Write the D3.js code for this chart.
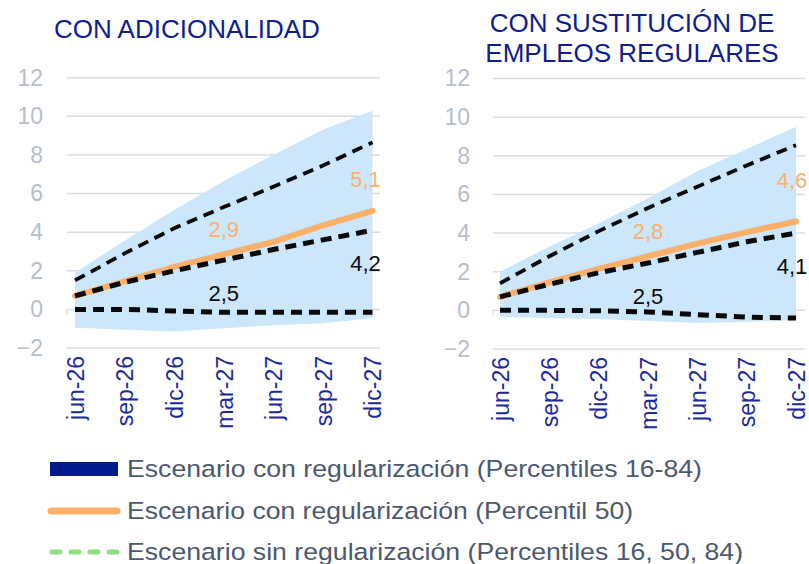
<!DOCTYPE html>
<html>
<head>
<meta charset="utf-8">
<script src="https://cdn.jsdelivr.net/npm/d3@7/dist/d3.min.js"></script>
<style>
  html, body { margin: 0; padding: 0; background: #ffffff; }
  svg { display: block; font-family: "Liberation Sans", Arial, sans-serif; }
</style>
</head>
<body>
<svg id="chart" width="809" height="564"></svg>
<script>
// ---------- data ----------
const categories = ["jun-26", "sep-26", "dic-26", "mar-27", "jun-27", "sep-27", "dic-27"];
const yTicks = [-2, 0, 2, 4, 6, 8, 10, 12];

// Panel 1: CON ADICIONALIDAD
const adicBandLow  = [-0.95, -1.05, -1.15, -0.98, -0.82, -0.72, -0.45];
const adicBandHigh = [1.9, 3.55, 5.15, 6.65, 8.0, 9.3, 10.3];
const adicP50      = [0.7, 1.45, 2.2, 2.85, 3.5, 4.35, 5.1];
const adicSinP16   = [0, 0, -0.08, -0.15, -0.15, -0.15, -0.15];
const adicSinP50   = [0.7, 1.4, 2.0, 2.55, 3.1, 3.6, 4.1];
const adicSinP84   = [1.5, 2.9, 4.2, 5.3, 6.35, 7.45, 8.65];
const adicLabels   = ["2,9", "5,1", "2,5", "4,2"];

// Panel 2: CON SUSTITUCIÓN DE EMPLEOS REGULARES
const sustBandLow  = [-0.35, -0.4, -0.45, -0.55, -0.65, -0.6, -0.5];
const sustBandHigh = [2.0, 3.3, 4.5, 5.8, 7.2, 8.35, 9.5];
const sustP50      = [0.7, 1.45, 2.15, 2.8, 3.45, 4.05, 4.6];
const sustSinP16   = [0, 0, -0.02, -0.08, -0.22, -0.35, -0.4];
const sustSinP50   = [0.7, 1.35, 1.95, 2.45, 3.0, 3.55, 4.0];
const sustSinP84   = [1.4, 2.8, 4.1, 5.3, 6.4, 7.5, 8.55];
const sustLabels   = ["2,8", "4,6", "2,5", "4,1"];

const legendLabels = [
  "Escenario con regularización (Percentiles 16-84)",
  "Escenario con regularización (Percentil 50)",
  "Escenario sin regularización (Percentiles 16, 50, 84)"
];

// ---------- styles ----------
const C = {
  title: "#0f1d8f",
  xLabel: "#1a2a9c",
  yLabel: "#b6bec9",
  grid: "#d8dce3",
  band: "#cce6fc",
  orange: "#fbb06a",
  black: "#0a0a0a",
  legendText: "#4c586e",
  navy: "#021a8c",
  green: "#8fe07f"
};

const svg = d3.select("#chart");

function drawPanel(cfg) {
  const x = d3.scalePoint().domain(categories).range(cfg.xRange);
  const y = d3.scaleLinear().domain([-2, 12]).range(cfg.yRange);
  const g = svg.append("g");

  // gridlines
  g.selectAll("line.grid").data(yTicks).join("line")
    .attr("x1", cfg.gridX[0]).attr("x2", cfg.gridX[1])
    .attr("y1", d => y(d)).attr("y2", d => y(d))
    .attr("stroke", C.grid).attr("stroke-width", 1.5);

  // y axis labels
  const ya = g.append("g")
    .attr("transform", `translate(${cfg.gridX[0]},0)`)
    .call(d3.axisLeft(y).tickValues(yTicks).tickSize(0).tickPadding(cfg.yPad).tickFormat(d3.format("d")));
  ya.select(".domain").remove();
  ya.selectAll("text")
    .attr("fill", C.yLabel)
    .style("font-size", "23px")
    .style("font-family", "'Liberation Sans', Arial, sans-serif");

  // tick marks on zero line
  g.selectAll("line.tick0").data(categories).join("line")
    .attr("x1", d => x(d) - cfg.tickOff).attr("x2", d => x(d) - cfg.tickOff)
    .attr("y1", y(0)).attr("y2", y(0) + 5)
    .attr("stroke", C.grid).attr("stroke-width", 1.5);

  // x axis labels
  const xa = g.append("g")
    .attr("transform", `translate(0,${y(-2)})`)
    .call(d3.axisBottom(x).tickSize(0));
  xa.select(".domain").remove();
  xa.selectAll("text")
    .attr("transform", "rotate(-90)")
    .attr("x", -8).attr("y", 0).attr("dy", "0.36em")
    .style("text-anchor", "end")
    .attr("fill", C.xLabel)
    .style("font-size", "23px")
    .style("font-family", "'Liberation Sans', Arial, sans-serif");

  // band
  const area = d3.area()
    .x((d, i) => x(categories[i]))
    .y0((d, i) => y(cfg.bandLow[i]))
    .y1((d, i) => y(cfg.bandHigh[i]));
  g.append("path").datum(cfg.bandHigh).attr("d", area).attr("fill", C.band);

  const line = d3.line().x((d, i) => x(categories[i])).y(d => y(d));

  // orange median
  g.append("path").datum(cfg.p50).attr("d", line)
    .attr("fill", "none").attr("stroke", C.orange).attr("stroke-width", 6)
    .attr("stroke-linecap", "round");

  // dashed lines (sin regularización)
  [[cfg.sinP84, 3.8], [cfg.sinP50, 5], [cfg.sinP16, 5]].forEach(([vals, w]) => {
    g.append("path").datum(vals).attr("d", line)
      .attr("fill", "none").attr("stroke", C.black).attr("stroke-width", w)
      .attr("stroke-dasharray", "11,7").attr("stroke-linecap", "butt");
  });

  // annotations
  const ann = [
    { cat: "mar-27", v: cfg.p50[3], t: cfg.labels[0], dy: -17, dx: 0, color: C.orange },
    { cat: "dic-27", v: cfg.p50[6], t: cfg.labels[1], dy: cfg.endDy, dx: cfg.endDx, color: C.orange },
    { cat: "mar-27", v: cfg.sinP50[3], t: cfg.labels[2], dy: 41, dx: 0, color: C.black },
    { cat: "dic-27", v: cfg.sinP50[6], t: cfg.labels[3], dy: 41, dx: cfg.endDx, color: C.black }
  ];
  g.selectAll("text.ann").data(ann).join("text")
    .attr("x", d => x(d.cat) + d.dx)
    .attr("y", d => y(d.v) + d.dy)
    .attr("text-anchor", "middle")
    .attr("fill", d => d.color)
    .style("font-size", "22px")
    .text(d => d.t);
}

drawPanel({
  xRange: [75, 372.5], yRange: [348, 77.7], gridX: [67, 380], yPad: 24, tickOff: 8,
  bandLow: adicBandLow, bandHigh: adicBandHigh, p50: adicP50,
  sinP16: adicSinP16, sinP50: adicSinP50, sinP84: adicSinP84,
  labels: adicLabels, endDy: -24, endDx: -7
});

drawPanel({
  xRange: [500, 796], yRange: [349, 78.5], gridX: [493, 805], yPad: 23, tickOff: 7,
  bandLow: sustBandLow, bandHigh: sustBandHigh, p50: sustP50,
  sinP16: sustSinP16, sinP50: sustSinP50, sinP84: sustSinP84,
  labels: sustLabels, endDy: -33, endDx: -4
});

// titles
svg.append("text").attr("x", 54).attr("y", 38)
  .attr("fill", C.title).style("font-size", "26px").text("CON ADICIONALIDAD");
svg.append("text").attr("x", 632).attr("y", 32).attr("text-anchor", "middle")
  .attr("fill", C.title).style("font-size", "26px").text("CON SUSTITUCIÓN DE");
svg.append("text").attr("x", 632).attr("y", 62).attr("text-anchor", "middle")
  .attr("fill", C.title).style("font-size", "26px").text("EMPLEOS REGULARES");

// legend
const lg = svg.append("g");
const legendRows = [469, 511, 552];
const legendWidths = [575, 506, 616];
lg.append("rect").attr("x", 50).attr("y", legendRows[0] - 7).attr("width", 68).attr("height", 14)
  .attr("fill", C.navy);
lg.append("line").attr("x1", 51).attr("x2", 117).attr("y1", legendRows[1]).attr("y2", legendRows[1])
  .attr("stroke", C.orange).attr("stroke-width", 7).attr("stroke-linecap", "round");
lg.append("line").attr("x1", 52).attr("x2", 118).attr("y1", legendRows[2]).attr("y2", legendRows[2])
  .attr("stroke", C.green).attr("stroke-width", 5).attr("stroke-linecap", "round")
  .attr("stroke-dasharray", "8,11");
lg.selectAll("text.leg").data(legendLabels).join("text")
  .attr("x", 127)
  .attr("y", (d, i) => legendRows[i] + 8)
  .attr("fill", C.legendText)
  .style("font-size", "24.5px")
  .attr("textLength", (d, i) => legendWidths[i])
  .attr("lengthAdjust", "spacingAndGlyphs")
  .text(d => d);
</script>
</body>
</html>
